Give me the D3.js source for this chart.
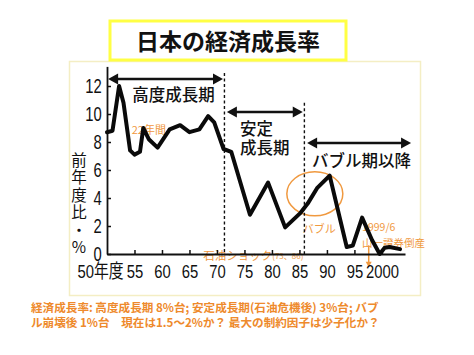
<!DOCTYPE html>
<html><head><meta charset="utf-8">
<script src="https://cdn.jsdelivr.net/npm/d3@7"></script>
<style>
html,body{margin:0;padding:0;background:#fff;}
svg{display:block;}
</style></head>
<body>
<script>
// ---- data ----
const years = [1950, 1951, 1952.2, 1953, 1954.2, 1955, 1956, 1956.6, 1957.6, 1959.2, 1961.4, 1963.3, 1965, 1966.8, 1968.4, 1969.5, 1971.2, 1972.6, 1976, 1979.3, 1982.4, 1985.1, 1986.5, 1988.2, 1990.5, 1993.6, 1994.7, 1996.4, 1998.2, 1999.6, 2000.5, 2001.4, 2003.3];
const growth = [8.7, 8.8, 12.0, 10.8, 7.4, 7.1, 7.3, 9.0, 8.2, 7.6, 8.9, 9.2, 8.7, 8.9, 9.85, 9.4, 7.5, 7.3, 2.8, 5.1, 1.9, 2.9, 3.6, 4.7, 5.6, 0.5, 0.6, 2.6, 1.0, 0.0, 0.45, 0.5, 0.35];
const yTicks = [0, 2, 4, 6, 8, 10, 12];
const xTicks = [1950, 1955, 1960, 1965, 1970, 1975, 1980, 1985, 1990, 1995, 2000];
const xTickLabels = ["50年度", "55", "60", "65", "70", "75", "80", "85", "90", "95", "2000"];
const periodNames = ["高度成長期", "安定\n成長期", "バブル期以降"];
const titleText = "日本の経済成長率";
const yTitle = "前年度比・%";
const noteLines = [
  "経済成長率: 高度成長期 8%台; 安定成長期(石油危機後) 3%台; バブ",
  "ル崩壊後 1%台　現在は1.5～2%か？ 最大の制約因子は少子化か？"
];

const W = 474, H = 355;
const svg = d3.select("body").append("svg").attr("width", W).attr("height", H);
const NUM = "'Liberation Sans','Noto Sans CJK JP',sans-serif";
const JP = "'Noto Sans CJK JP','Noto Sans',sans-serif";
const ORANGE = "#ee8a2c";
const ORANGE_L = "#f0993f";

// panel border
svg.append("rect").attr("x", 69.5).attr("y", 61.5).attr("width", 351).attr("height", 234)
  .attr("fill", "none").attr("stroke", "#f4eec4").attr("stroke-width", 1.5);

// title box
svg.append("rect").attr("x", 110).attr("y", 21).attr("width", 236).attr("height", 39)
  .attr("fill", "#fff").attr("stroke", "#ffff44").attr("stroke-width", 3);
svg.append("text").attr("x", 228).attr("y", 40).attr("text-anchor", "middle")
  .attr("dominant-baseline", "central").attr("font-family", JP).attr("font-weight", 700)
  .attr("font-size", 23).attr("fill", "#111").text(titleText);

// scales
const x = d3.scaleLinear().domain([1950, 2004.2]).range([107, 405]);
const y = d3.scaleLinear().domain([0, 13.4]).range([254, 66.4]);

// orange annotations under the line
const ann = svg.append("g").attr("font-family", JP).attr("fill", ORANGE_L);
ann.append("text").attr("x", x(1954.5)).attr("y", y(8.9)).attr("font-size", 11)
  .attr("dominant-baseline", "central").text("22年間");
const oil = ann.append("text").attr("x", x(1967.5)).attr("y", y(-0.05)).attr("font-size", 11.5)
  .attr("dominant-baseline", "central");
oil.append("tspan").text("石油ショック");
oil.append("tspan").attr("font-size", 8).text("(73、86)");
ann.append("text").attr("x", x(1985.6)).attr("y", y(1.85)).attr("font-size", 11)
  .attr("dominant-baseline", "central").text("バブル");
ann.append("text").attr("x", x(1996.4)).attr("y", y(2.0)).attr("font-size", 10.5)
  .attr("dominant-baseline", "central").text("1999/6");
ann.append("text").attr("x", x(1996.4)).attr("y", y(0.85)).attr("font-size", 10.5)
  .attr("dominant-baseline", "central").text("山一證券倒産");
// orange arrow
svg.append("line").attr("x1", x(1997.6)).attr("x2", x(1997.6)).attr("y1", y(0.62)).attr("y2", y(-0.6))
  .attr("stroke", ORANGE_L).attr("stroke-width", 1.5);
svg.append("path")
  .attr("d", `M${x(1997.6)-3},${y(-0.55)} L${x(1997.6)+3},${y(-0.55)} L${x(1997.6)},${y(-0.95)} Z`)
  .attr("fill", ORANGE_L);
// bubble ellipse
svg.append("ellipse").attr("cx", x(1987.8)).attr("cy", y(4.3)).attr("rx", 28).attr("ry", 22)
  .attr("fill", "none").attr("stroke", ORANGE_L).attr("stroke-width", 1.5);

// dashed period separators
[[1971.36, 12.93], [1985.9, 10.8]].forEach(([yr, top]) => {
  svg.append("line").attr("x1", x(yr)).attr("x2", x(yr)).attr("y1", y(top)).attr("y2", y(0))
    .attr("stroke", "#111").attr("stroke-width", 1.4).attr("stroke-dasharray", "3,2.5");
});

// axes
const yAxis = d3.axisLeft(y).tickValues(yTicks).tickSizeInner(-4).tickSizeOuter(0).tickPadding(7).tickFormat(d3.format("d"));
const gy = svg.append("g").attr("transform", "translate(107,0)").call(yAxis);
gy.select(".domain").attr("stroke", "#111").attr("stroke-width", 1.8);
gy.selectAll(".tick line").attr("stroke", "#111").attr("stroke-width", 1.5);
gy.selectAll(".tick text").attr("font-family", NUM).attr("font-size", 19.5).attr("fill", "#111")
  .attr("transform", "scale(0.76,1)");

const xAxis = d3.axisBottom(x).tickValues(xTicks).tickSizeInner(-4).tickSizeOuter(0).tickPadding(11)
  .tickFormat((d, i) => xTickLabels[i]);
const gx = svg.append("g").attr("transform", `translate(0,${y(0)})`).call(xAxis);
gx.select(".domain").attr("stroke", "#111").attr("stroke-width", 1.8);
gx.selectAll(".tick line").attr("stroke", "#111").attr("stroke-width", 1.5);
gx.selectAll(".tick text").attr("font-family", NUM).attr("font-size", 19).attr("fill", "#111")
  .attr("transform", "scale(0.78,1)");
gx.selectAll(".tick").filter((d, i) => i === 0).select("line").remove();
gx.selectAll(".tick").filter((d, i) => i === 0).select("text").attr("dx", -9);

// y-axis title (vertical writing)
svg.append("text").attr("x", 79).attr("y", 152)
  .style("writing-mode", "vertical-rl").style("text-orientation", "upright")
  .attr("letter-spacing", 2)
  .attr("font-family", JP).attr("font-size", 15.5).attr("fill", "#111").text(yTitle);

// data line
const line = d3.line().x((d, i) => x(years[i])).y(d => y(d));
svg.append("path").datum(growth).attr("d", line).attr("fill", "none")
  .attr("stroke", "#0a0a0a").attr("stroke-width", 4).attr("stroke-linejoin", "round").attr("stroke-linecap", "round");

// period arrows
function dblArrow(x1, x2, yy) {
  const g = svg.append("g");
  g.append("line").attr("x1", x1 + 6).attr("x2", x2 - 6).attr("y1", yy).attr("y2", yy)
    .attr("stroke", "#111").attr("stroke-width", 2.5);
  g.append("path").attr("d", `M${x1},${yy} L${x1+10},${yy-5.5} L${x1+10},${yy+5.5} Z`).attr("fill", "#111");
  g.append("path").attr("d", `M${x2},${yy} L${x2-10},${yy-5.5} L${x2-10},${yy+5.5} Z`).attr("fill", "#111");
}
dblArrow(x(1950.2), x(1971.1), y(12.5));
dblArrow(x(1971.8), x(1985.6), y(10.14));
dblArrow(x(1986.4), x(2005.3), y(7.93));

const lab = svg.append("g").attr("font-family", JP).attr("font-weight", 500).attr("fill", "#111");
lab.append("text").attr("x", x(1962.1)).attr("y", y(11.4)).attr("text-anchor", "middle")
  .attr("dominant-baseline", "central").attr("font-size", 16.5).text(periodNames[0]);
const p2 = periodNames[1].split("\n");
lab.append("text").attr("x", x(1974.2)).attr("y", y(9.0)).attr("dominant-baseline", "central")
  .attr("font-size", 16.5).text(p2[0]);
lab.append("text").attr("x", x(1974.2)).attr("y", y(7.65)).attr("dominant-baseline", "central")
  .attr("font-size", 16.5).text(p2[1]);
lab.append("text").attr("x", x(1987.3)).attr("y", y(6.7)).attr("dominant-baseline", "central")
  .attr("font-size", 16.5).text(periodNames[2]);

// bottom note
noteLines.forEach((t, i) => {
  svg.append("text").attr("x", 31).attr("y", 307 + i * 14.5).attr("dominant-baseline", "central")
    .attr("font-family", JP).attr("font-weight", 700).attr("font-size", 11.6).attr("fill", ORANGE).text(t);
});
</script>
</body></html>
